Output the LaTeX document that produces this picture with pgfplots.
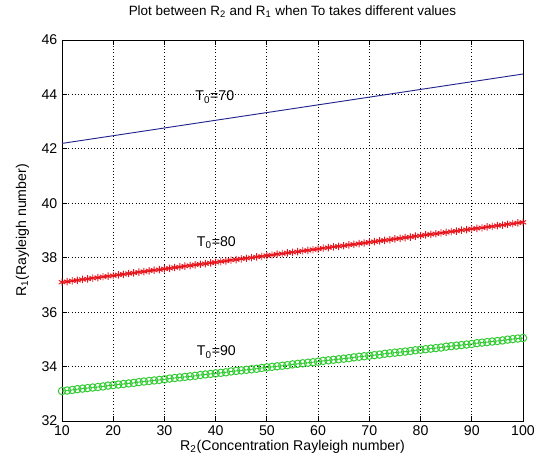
\documentclass[border=0pt]{standalone}
\usepackage{fontspec}
\setmainfont{Liberation Sans}
\usepackage{pgfplots}
\pgfplotsset{compat=1.18}
\usetikzlibrary{plotmarks}
\definecolor{mblue}{HTML}{24248F}
\definecolor{mred}{HTML}{E8141C}
\definecolor{mgreen}{HTML}{34CC34}

\begin{document}
\begin{tikzpicture}
\begin{axis}[
  scale only axis,
  width=345.75pt, height=285.75pt,
  xmin=10, xmax=100, ymin=32, ymax=46,
  xtick={10,20,...,100}, ytick={32,34,...,46},
  grid=major,
  grid style={black, dotted, line width=0.6pt},
  axis line style={line width=0.7pt},
  tick style={black, line width=0.6pt},
  major tick length=4pt,
  font=\fontsize{10.6}{12}\selectfont,
  /pgf/number format/assume math mode=true,
  xticklabel style={inner sep=1pt, yshift=-2.5pt},
  title={Plot between R\textsubscript{2} and R\textsubscript{1} when To takes different values},
  title style={at={(axis description cs:0.5,1.0446)}, anchor=base, font=\fontsize{10.1}{12}\selectfont},
  xlabel={R\textsubscript{2}(Concentration Rayleigh number)},
  xlabel style={at={(axis description cs:0.5,-0.077)}, anchor=base, inner sep=0pt},
  ylabel={R\textsubscript{1}(Rayleigh number)},
  ylabel style={at={(axis description cs:-0.078,0.5)}, anchor=base},
]
% T0 = 70
\addplot[mblue, line width=0.7pt, mark=none] coordinates {(10,42.20) (100,44.75)};
% T0 = 80
\addplot[mred, line width=0.9pt, mark=asterisk, mark size=2.8pt, mark options={line width=0.7pt}] coordinates {
(10,37.10) (11,37.12) (12,37.15) (13,37.17) (14,37.20) (15,37.22) (16,37.25) (17,37.27) (18,37.30) (19,37.32)
(20,37.34) (21,37.37) (22,37.39) (23,37.42) (24,37.44) (25,37.47) (26,37.49) (27,37.52) (28,37.54) (29,37.56)
(30,37.59) (31,37.61) (32,37.64) (33,37.66) (34,37.69) (35,37.71) (36,37.74) (37,37.76) (38,37.78) (39,37.81)
(40,37.83) (41,37.86) (42,37.88) (43,37.91) (44,37.93) (45,37.96) (46,37.98) (47,38.00) (48,38.03) (49,38.05)
(50,38.08) (51,38.10) (52,38.13) (53,38.15) (54,38.18) (55,38.20) (56,38.22) (57,38.25) (58,38.27) (59,38.30)
(60,38.32) (61,38.35) (62,38.37) (63,38.40) (64,38.42) (65,38.44) (66,38.47) (67,38.49) (68,38.52) (69,38.54)
(70,38.57) (71,38.59) (72,38.62) (73,38.64) (74,38.66) (75,38.69) (76,38.71) (77,38.74) (78,38.76) (79,38.79)
(80,38.81) (81,38.84) (82,38.86) (83,38.88) (84,38.91) (85,38.93) (86,38.96) (87,38.98) (88,39.01) (89,39.03)
(90,39.06) (91,39.08) (92,39.10) (93,39.13) (94,39.15) (95,39.18) (96,39.20) (97,39.23) (98,39.25) (99,39.28)
(100,39.30)
};
% T0 = 90
\addplot[mgreen, line width=0.7pt, mark=o, mark size=2.8pt, mark options={line width=0.75pt}] coordinates {
(10,33.10) (11,33.12) (12,33.14) (13,33.17) (14,33.19) (15,33.21) (16,33.23) (17,33.25) (18,33.27) (19,33.30)
(20,33.32) (21,33.34) (22,33.36) (23,33.38) (24,33.40) (25,33.43) (26,33.45) (27,33.47) (28,33.49) (29,33.51)
(30,33.53) (31,33.56) (32,33.58) (33,33.60) (34,33.62) (35,33.64) (36,33.66) (37,33.69) (38,33.71) (39,33.73)
(40,33.75) (41,33.77) (42,33.79) (43,33.82) (44,33.84) (45,33.86) (46,33.88) (47,33.90) (48,33.92) (49,33.95)
(50,33.97) (51,33.99) (52,34.01) (53,34.03) (54,34.05) (55,34.08) (56,34.10) (57,34.12) (58,34.14) (59,34.16)
(60,34.18) (61,34.21) (62,34.23) (63,34.25) (64,34.27) (65,34.29) (66,34.31) (67,34.34) (68,34.36) (69,34.38)
(70,34.40) (71,34.42) (72,34.44) (73,34.47) (74,34.49) (75,34.51) (76,34.53) (77,34.55) (78,34.57) (79,34.60)
(80,34.62) (81,34.64) (82,34.66) (83,34.68) (84,34.70) (85,34.73) (86,34.75) (87,34.77) (88,34.79) (89,34.81)
(90,34.83) (91,34.86) (92,34.88) (93,34.90) (94,34.92) (95,34.94) (96,34.96) (97,34.99) (98,35.01) (99,35.03)
(100,35.05)
};
\node[anchor=base west, inner sep=0pt] at (axis cs:36,43.76) {T\textsubscript{0}=70};
\node[anchor=base west, inner sep=0pt] at (axis cs:36.3,38.43) {T\textsubscript{0}=80};
\node[anchor=base west, inner sep=0pt] at (axis cs:36.3,34.39) {T\textsubscript{0}=90};
\end{axis}
% page frame matching the reference (axis box at 62..524 x 40..421 px)
\path (-46.5pt,-32.25pt) rectangle (356.25pt,315.75pt);
\end{tikzpicture}
\end{document}
